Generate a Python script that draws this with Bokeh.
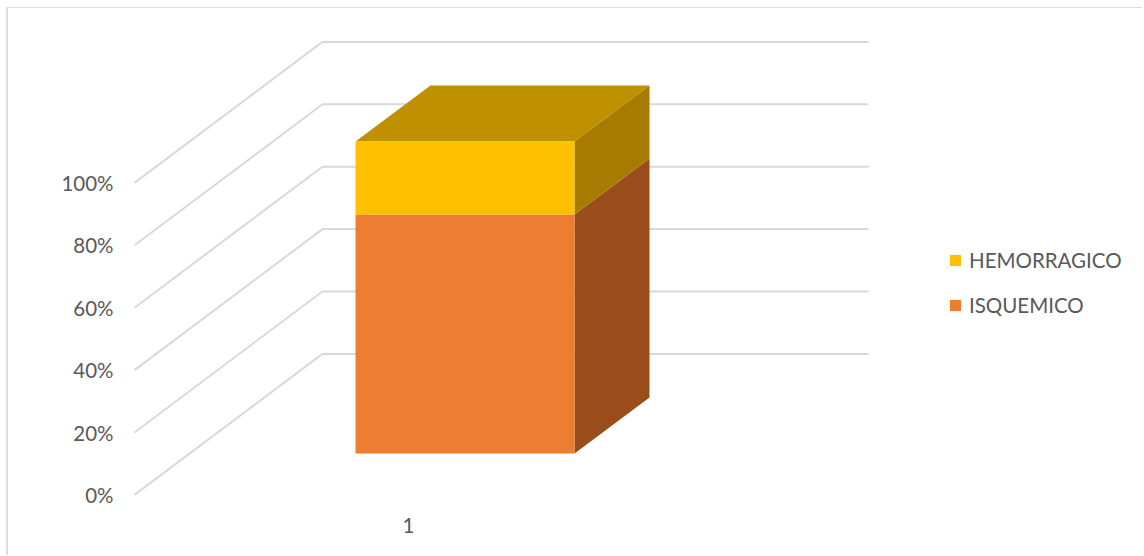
from bokeh.embed import file_html
from bokeh.resources import INLINE
from bokeh.plotting import figure
from bokeh.models import Range1d, FixedTicker, Legend, LegendItem

# ---- data
categories = ["1"]
isquemico = [76.6]
hemorragico = [23.4]
y_ticks = [0, 20, 40, 60, 80, 100]
y_tick_labels = ["0%", "20%", "40%", "60%", "80%", "100%"]
legend_names = ["HEMORRAGICO", "ISQUEMICO"]

FONT = "Lato"
TEXT = "#595959"
GRID = "#d9d9d9"
ORANGE, ORANGE_SIDE = "#ED7D31", "#9A4D1B"
YELLOW, YELLOW_SIDE, YELLOW_TOP = "#FFC000", "#A67C00", "#BF9000"

# layout: x units are window pixels; y units are percent (3.12 px per 1 %)
PX_PER_PCT = 3.12
Y0 = 494.4
FRAME_TOP, FRAME_BOTTOM = 8, 510
FRAME_LEFT, FRAME_RIGHT = 120, 1144

p = figure(
    width=1136, height=548, output_backend="svg", toolbar_location=None,
    x_range=Range1d(FRAME_LEFT + 1, FRAME_RIGHT + 1),
    y_range=Range1d((Y0 - FRAME_BOTTOM) / PX_PER_PCT, (Y0 - FRAME_TOP) / PX_PER_PCT),
    min_border_left=FRAME_LEFT - 8, min_border_right=0,
    min_border_top=0, min_border_bottom=556 - FRAME_BOTTOM,
    margin=(8, 0, 0, 8),
    styles={"box-shadow": "-2px -1px 0 #dcdcdc"},
)
p.outline_line_color = None
p.xgrid.visible = False
p.ygrid.visible = False

# real axes, tick marks off
ax = p.yaxis[0]
ax.ticker = FixedTicker(ticks=y_ticks)
ax.major_label_overrides = {t: s for t, s in zip(y_ticks, y_tick_labels)}
ax.axis_line_color = None
ax.major_tick_line_color = None
ax.minor_tick_line_color = None
ax.major_tick_out = 0
ax.major_tick_in = 0
ax.major_label_standoff = 7
ax.major_label_text_font = FONT
ax.major_label_text_font_size = "20.5px"
ax.major_label_text_color = TEXT

CAT_X = 409
bx = p.xaxis[0]
bx.ticker = FixedTicker(ticks=[CAT_X])
bx.major_label_overrides = {CAT_X: categories[0]}
bx.axis_line_color = None
bx.major_tick_line_color = None
bx.minor_tick_line_color = None
bx.major_tick_out = 0
bx.major_tick_in = 0
bx.major_label_standoff = 7
bx.major_label_text_font = FONT
bx.major_label_text_font_size = "20.5px"
bx.major_label_text_color = TEXT

# 3-D gridlines: floor diagonal, then along the back wall
GX0, GX1, GX2 = 135, 323, 869
G_DEPTH = 141 / PX_PER_PCT
xs = [[GX0, GX1, GX2] for _ in y_ticks]
ys = [[t, t + G_DEPTH, t + G_DEPTH] for t in y_ticks]
p.multi_line(xs, ys, line_color=GRID, line_width=2)

# 3-D stacked bar
BX0, BX1 = 356, 575
BAR_DX = 75
BAR_DEPTH = 56 / PX_PER_PCT
BASE = (Y0 - 453) / PX_PER_PCT
split = BASE + isquemico[0]
top = split + hemorragico[0]

p.patch([BX1, BX1 + BAR_DX, BX1 + BAR_DX, BX1],
        [BASE, BASE + BAR_DEPTH, split + BAR_DEPTH, split],
        fill_color=ORANGE_SIDE, line_color=None)
p.patch([BX1, BX1 + BAR_DX, BX1 + BAR_DX, BX1],
        [split, split + BAR_DEPTH, top + BAR_DEPTH, top],
        fill_color=YELLOW_SIDE, line_color=None)
p.patch([BX0, BX0 + BAR_DX, BX1 + BAR_DX, BX1],
        [top, top + BAR_DEPTH, top + BAR_DEPTH, top],
        fill_color=YELLOW_TOP, line_color=None)
r_isq = p.quad(left=[BX0], right=[BX1], bottom=[BASE], top=[split],
               fill_color=ORANGE, line_color=None)
r_hem = p.quad(left=[BX0], right=[BX1], bottom=[split], top=[top],
               fill_color=YELLOW, line_color=None)

legend = Legend(
    items=[LegendItem(label=legend_names[0], renderers=[r_hem]),
           LegendItem(label=legend_names[1], renderers=[r_isq])],
    location=(948 - FRAME_LEFT, FRAME_BOTTOM - 317),
    orientation="vertical",
    border_line_color=None, background_fill_alpha=0,
    padding=0, margin=0, spacing=21,
    glyph_width=14, glyph_height=14, label_standoff=7,
    label_text_font=FONT, label_text_font_size="20.5px", label_text_color=TEXT,
)
p.add_layout(legend)

open("out.html", "w").write(file_html(p, INLINE))
